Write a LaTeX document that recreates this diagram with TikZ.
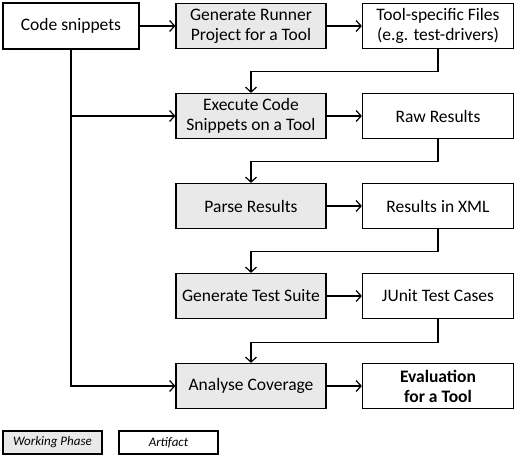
\documentclass[tikz,border=0pt]{standalone}
\usepackage{fontspec}
\setmainfont{Carlito}
\usetikzlibrary{arrows.meta,positioning}

\tikzset{
  box/.style={draw,line width=1.2pt,align=center,inner sep=0pt,
    font=\fontsize{17.5}{20}\selectfont},
  phase/.style={box,fill=gray!17,minimum width=150pt,minimum height=45pt},
  artifact/.style={box,fill=white,minimum width=151pt,minimum height=45pt},
  key/.style={draw,line width=1.2pt,inner sep=0pt,minimum width=99pt,minimum height=23pt,
    font=\fontsize{13}{14}\selectfont\itshape},
}

\begin{document}
\begin{tikzpicture}[node distance=90pt,on grid,>={Straight Barb[length=5pt,width=11pt,line width=1.2pt]},
  line width=1.2pt]
  \useasboundingbox (0,0) rectangle (520pt,-456pt);
  \node[phase]    (gen)  at (251pt,-26pt) {Generate Runner\\Project for a Tool};
  \node[artifact] (files) [right=187pt of gen] {Tool-specific Files\\(e.g. test-drivers)};
  \node[box,minimum width=136pt,minimum height=46pt] (code) [left=180pt of gen] {Code snippets};
  \node[phase]    (exec) [below=of gen]   {Execute Code\\Snippets on a Tool};
  \node[artifact] (raw)  [below=of files] {Raw Results};
  \node[phase]    (parse) [below=of exec] {Parse Results};
  \node[artifact] (xml)  [below=of raw]   {Results in XML};
  \node[phase]    (suite) [below=of parse] {Generate Test Suite};
  \node[artifact] (junit) [below=of xml]  {JUnit Test Cases};
  \node[phase]    (cover) [below=of suite] {Analyse Coverage};
  \node[artifact,font=\fontsize{17.5}{20}\selectfont\bfseries] (eval) [below=of junit] {Evaluation\\for a Tool};
  % legend
  \node[key,fill=gray!17] (keyphase) at (52.5pt,-442.5pt) {Working Phase};
  \node[key,fill=white]   (keyart)   at (168.5pt,-442.5pt) {Artifact};

  \draw[->] (code) -- (gen);
  \draw[->] (code.south) |- (cover.west);
  \draw[->] (code.south |- exec.west) -- (exec.west);
  \draw[->] (gen) -- (files);
  \draw[->] (files.south) -- ++(0,-22pt) -| (exec.north);
  \draw[->] (exec) -- (raw);
  \draw[->] (raw.south) -- ++(0,-22pt) -| (parse.north);
  \draw[->] (parse) -- (xml);
  \draw[->] (xml.south) -- ++(0,-22pt) -| (suite.north);
  \draw[->] (suite) -- (junit);
  \draw[->] (junit.south) -- ++(0,-23pt) -| (cover.north);
  \draw[->] (cover) -- (eval);
\end{tikzpicture}
\end{document}
